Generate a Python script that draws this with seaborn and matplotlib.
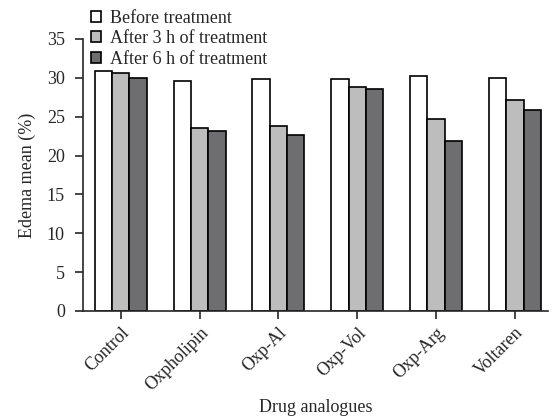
import pandas as pd
import matplotlib.pyplot as plt
import seaborn as sns

# Values
drugs = ['Control', 'Oxpholipin', 'Oxp-Al', 'Oxp-Vol', 'Oxp-Arg', 'Voltaren']
before = [30.9, 29.6, 29.8, 29.9, 30.2, 30.0]
after_3h = [30.6, 23.5, 23.8, 28.8, 24.7, 27.2]
after_6h = [30.0, 23.2, 22.6, 28.5, 21.9, 25.9]
series_names = ['Before treatment', 'After 3 h of treatment', 'After 6 h of treatment']

df = pd.DataFrame({'Drug': drugs, series_names[0]: before,
                   series_names[1]: after_3h, series_names[2]: after_6h})
long_df = df.melt(id_vars='Drug', var_name='Time', value_name='Edema')

sns.set_style('ticks')
plt.rcParams['font.family'] = ['Liberation Serif', 'DejaVu Serif']

fig = plt.figure(figsize=(5.53, 4.19), dpi=100)
ax = fig.add_axes([0.150, 0.258, 0.841, 0.649])

palette = ['#ffffff', '#bdbdbd', '#6e6e70']
sns.barplot(data=long_df, x='Drug', y='Edema', hue='Time', hue_order=series_names,
            palette=palette, edgecolor='black', linewidth=1.2, width=0.66,
            saturation=1, ax=ax)

ax.set_ylim(0, 35)
ax.set_yticks(range(0, 36, 5))
ax.set_xlim(-0.48, 5.42)
ax.set_ylabel('Edema mean (%)', fontsize=13, labelpad=8)
ax.set_xlabel('Drug analogues', fontsize=13)
ax.xaxis.set_label_coords(0.5, -0.325)
ax.tick_params(axis='both', labelsize=13, width=1.2, length=6, direction='out')
ax.tick_params(axis='y', pad=7)
plt.setp(ax.get_xticklabels(), rotation=45, ha='right', rotation_mode='anchor')
for s in ['top', 'right']:
    ax.spines[s].set_visible(False)
for s in ['left', 'bottom']:
    ax.spines[s].set_linewidth(1.2)

ax.legend(loc='upper left', bbox_to_anchor=(0.141, 1.007), bbox_transform=fig.transFigure,
          frameon=False, fontsize=13, handlelength=0.55, handleheight=0.55,
          handletextpad=0.5, labelspacing=0.2, borderpad=0.2)

fig.savefig('out.png', dpi=100)
